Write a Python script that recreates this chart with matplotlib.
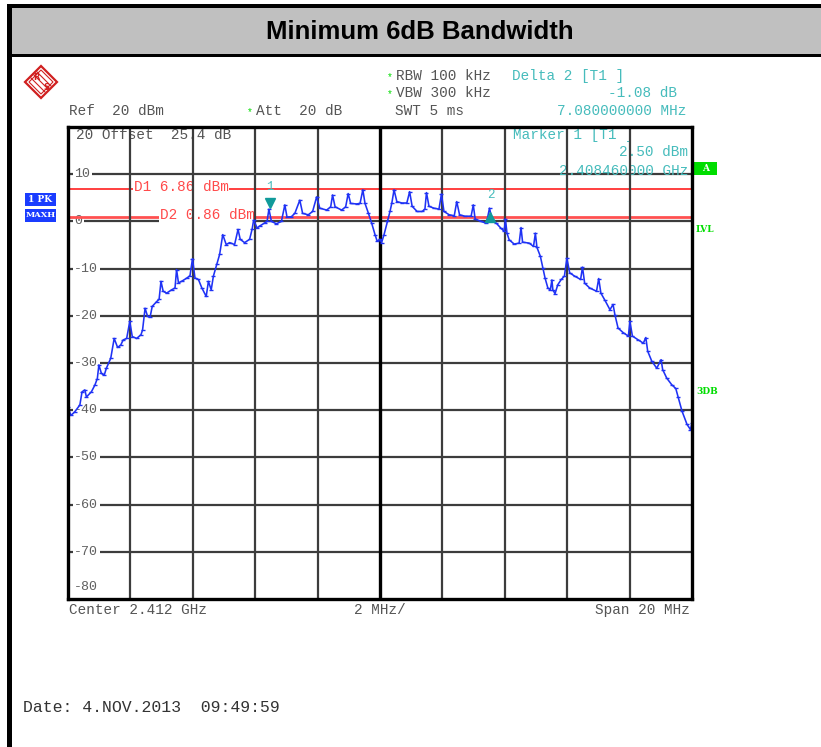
import matplotlib
matplotlib.use('Agg')
import matplotlib.pyplot as plt
from matplotlib.patches import Rectangle, Polygon
import matplotlib.transforms as mtransforms

W, H = 821, 747

# ---------------- data ----------------
freq_mhz = [-10.0, -9.91, -9.79, -9.62, -9.55, -9.46, -9.41, -9.25, -9.14, -9.06, -9.01, -8.93, -8.84,
            -8.77, -8.63, -8.52, -8.41, -8.31, -8.23, -8.12, -8.02, -7.94, -7.80, -7.66, -7.61, -7.53,
            -7.45, -7.37, -7.30, -7.16, -7.08, -7.02, -6.95, -6.84, -6.68, -6.57, -6.52, -6.46, -6.36,
            -6.19, -6.09, -6.01, -5.93, -5.82, -5.71, -5.57, -5.50, -5.41, -5.34, -5.23, -5.14, -5.04,
            -4.93, -4.82, -4.66, -4.55, -4.48, -4.34, -4.18, -4.10, -4.05, -3.94, -3.86, -3.70, -3.62,
            -3.56, -3.48, -3.32, -3.16, -3.05, -2.98, -2.84, -2.73, -2.57, -2.48, -2.30, -2.16, -2.03,
            -1.93, -1.71, -1.58, -1.52, -1.44, -1.23, -1.10, -1.02, -0.94, -0.75, -0.64, -0.55, -0.48,
            -0.37, -0.27, -0.16, -0.09, 0.0, 0.05, 0.13, 0.24, 0.32, 0.38, 0.45, 0.54, 0.70, 0.86, 0.95,
            1.03, 1.19, 1.35, 1.44, 1.49, 1.57, 1.73, 1.89, 1.97, 2.05, 2.22, 2.38, 2.46, 2.55, 2.72,
            2.92, 2.99, 3.05, 3.24, 3.41, 3.51, 3.59, 3.73, 3.87, 3.98, 4.02, 4.07, 4.14, 4.30, 4.46,
            4.52, 4.57, 4.78, 4.92, 4.98, 5.03, 5.14, 5.22, 5.29, 5.38, 5.46, 5.51, 5.54, 5.61, 5.70,
            5.81, 5.91, 5.99, 6.08, 6.24, 6.43, 6.49, 6.56, 6.72, 6.94, 7.01, 7.08, 7.20, 7.37, 7.47,
            7.53, 7.63, 7.80, 7.96, 8.01, 8.09, 8.28, 8.44, 8.52, 8.58, 8.71, 8.87, 9.01, 9.06, 9.19,
            9.35, 9.48, 9.55, 9.68, 9.84, 9.95, 10.0]
level_dbm = [-39.3, -41.1, -40.4, -38.9, -36.1, -35.7, -37.2, -36.1, -34.7, -33.3, -30.4, -32.2, -32.6,
             -31.1, -29.0, -24.8, -26.7, -26.2, -25.1, -24.8, -21.2, -24.4, -24.8, -24.0, -23.0, -18.4,
             -20.1, -20.3, -18.0, -17.0, -16.5, -12.7, -14.8, -15.2, -14.5, -14.1, -10.2, -13.0, -12.7,
             -12.0, -11.5, -7.9, -12.0, -12.3, -14.1, -15.9, -12.7, -14.5, -11.6, -9.1, -7.0, -2.8,
             -4.9, -4.5, -4.9, -1.7, -3.8, -4.5, -3.8, -1.7, 0.3, -1.4, -1.0, -0.35, 0.0,
             2.6, 0.0, -0.5, 0.0, 3.5, 0.9, 1.0, 1.7, 4.5, 1.7, 1.4, 2.1, 5.2,
             2.8, 2.4, 3.1, 5.6, 3.1, 2.4, 3.1, 5.9, 3.8, 3.7, 3.8, 6.7, 3.8,
             1.7, -0.3, -2.8, -4.2, -3.8, -4.5, -2.8, 0.0, 2.1, 3.9, 6.7, 4.2, 3.9, 3.9, 6.3,
             3.2, 2.1, 2.1, 2.6, 6.1, 3.2, 2.8, 2.6, 5.8, 2.1, 1.4, 1.2, 4.2, 1.4, 1.1,
             1.1, 3.5, 0.5, 0.0, -0.4, 2.8, 0.35, -0.4, -1.4, -2.1, 0.5, -2.5, -3.9, -4.8, -4.6,
             -1.3, -4.4, -4.6, -5.3, -2.5, -5.5, -7.4, -9.9, -12.0, -14.1, -14.5, -12.4, -14.5, -15.3, -13.4,
             -12.3, -11.6, -7.8, -10.9, -11.6, -12.3, -9.7, -13.1, -14.1, -14.8, -12.1, -15.2, -16.6, -18.7, -17.6,
             -19.8, -22.6, -23.6, -24.3, -21.2, -24.3, -25.1, -25.8, -24.6, -27.5, -29.6, -31.1, -29.3, -31.4, -33.2,
             -34.6, -35.4, -37.1, -40.2, -43.0, -44.1, -42.7]

y_grid = [10, 0, -10, -20, -30, -40, -50, -60, -70]
y_labels = ['10', '0', '-10', '-20', '-30', '-40', '-50', '-60', '-70']
x_grid = [-8, -6, -4, -2, 2, 4, 6, 8]
d1_level = 6.86
d2_level = 0.86
marker1_f, marker1_lvl = -3.54, 2.50
marker2_f, marker2_lvl = 3.54, 1.42

MONO = 'Liberation Mono'
GRAY = '#3c3c3c'
TXT = '#555555'
CYAN = '#46bcbc'
RED = '#ff3030'
GREEN = '#00dd00'
BLUE = '#1a3cff'

fig = plt.figure(figsize=(W / 100, H / 100), dpi=100)

# background canvas in pixel coordinates
bg = fig.add_axes([0, 0, 1, 1])
bg.set_xlim(0, W)
bg.set_ylim(H, 0)
bg.axis('off')

# frame & title bar
bg.add_patch(Rectangle((7, 6), W - 7, 50, facecolor='#c0c0c0', edgecolor='none'))
bg.add_patch(Rectangle((7, 4), W - 7, 3.5, facecolor='black', edgecolor='none'))
bg.add_patch(Rectangle((7, 53.5), W - 7, 3.5, facecolor='black', edgecolor='none'))
bg.add_patch(Rectangle((7, 4), 4.5, H, facecolor='black', edgecolor='none'))
bg.text(420, 32, 'Minimum 6dB Bandwidth', fontsize=18.5, fontweight='bold',
        family='Liberation Sans', ha='center', va='center', color='black')

# R&S logo
cx, cy, r = 41, 82, 16
bg.add_patch(Polygon([(cx, cy - r), (cx + r, cy), (cx, cy + r), (cx - r, cy)], closed=True,
                     facecolor='white', edgecolor='#d02020', lw=1.6))
bg.add_patch(Polygon([(cx, cy - r + 4), (cx + r - 4, cy), (cx, cy + r - 4), (cx - r + 4, cy)], closed=True,
                     facecolor='none', edgecolor='#d02020', lw=0.8))
for d in (-3, 0, 3):
    bg.plot([cx - 7 + d, cx + 7 + d], [cy - 7 - d, cy + 7 - d], color='#d02020', lw=0.8)
bg.text(cx - 5, cy - 5, 'R', fontsize=6, color='#d02020', ha='center', va='center', fontweight='bold')
bg.text(cx + 5, cy + 5, 'S', fontsize=6, color='#d02020', ha='center', va='center', fontweight='bold')

# header text
FS = 10.4
def mono(x, y, s, color=TXT, ha='left', size=FS):
    bg.text(x, y, s, family=MONO, fontsize=size, color=color, ha=ha, va='center')

def star(x, y):
    bg.text(x, y + 1, '*', family=MONO, fontsize=7, color=GREEN, ha='center', va='center')

star(390, 76); mono(396, 76, 'RBW 100 kHz')
star(390, 93); mono(396, 93, 'VBW 300 kHz')
mono(512, 76, 'Delta 2 [T1 ]', color=CYAN)
mono(686, 93, '-1.08 dB ', color=CYAN, ha='right')
mono(69, 111, 'Ref  20 dBm')
star(250, 111); mono(256, 111, 'Att  20 dB')
mono(395, 111, 'SWT 5 ms')
mono(686, 111, '7.080000000 MHz', color=CYAN, ha='right')

# side labels
bg.add_patch(Rectangle((694, 162), 23, 13, facecolor=GREEN, edgecolor='none'))
bg.text(705.5, 168.5, 'A', fontsize=6.5, color='white', fontweight='bold', ha='center', va='center',
        family='DejaVu Serif')
bg.text(696, 229, 'LVL', fontsize=6.5, color=GREEN, fontweight='bold', ha='left', va='center',
        family='DejaVu Serif')
bg.text(696, 392, '3DB', fontsize=6.5, color=GREEN, fontweight='bold', ha='left', va='center',
        family='DejaVu Serif')
bg.add_patch(Rectangle((25, 193), 31, 13, facecolor=BLUE, edgecolor='none'))
bg.text(40.5, 199.5, '1 PK', fontsize=6.5, color='white', fontweight='bold', ha='center', va='center',
        family='DejaVu Serif')
bg.add_patch(Rectangle((25, 208.5), 31, 13, facecolor=BLUE, edgecolor='none'))
bg.text(40.5, 215, 'MAXH', fontsize=6, color='white', fontweight='bold', ha='center', va='center',
        family='DejaVu Serif')

# bottom text
mono(69, 610, 'Center 2.412 GHz')
mono(380, 610, '2 MHz/', ha='center')
mono(690, 610, 'Span 20 MHz', ha='right')
mono(23, 707, 'Date: 4.NOV.2013  09:49:59', color='#333333', size=11.9)

# ---------------- main plot ----------------
ax = fig.add_axes([68 / W, 1 - 599 / H, 624 / W, 472 / H])
ax.set_xlim(-10, 10)
ax.set_ylim(-80, 20)
ax.set_xticks([])
ax.set_yticks([])
ax.set_facecolor('white')
for s in ax.spines.values():
    s.set_linewidth(2.4)
    s.set_color('black')
    s.set_zorder(10)

for yv in y_grid:
    ax.axhline(yv, color=GRAY, lw=1.6, zorder=1)
for xv in x_grid:
    ax.axvline(xv, color=GRAY, lw=1.6, zorder=3)
ax.axvline(0, color='black', lw=2.4, zorder=3)

tk = dict(family=MONO, fontsize=9.6, color='#606060', ha='left', va='center', zorder=2,
          bbox=dict(facecolor='white', edgecolor='none', pad=1.0))
for yv, lab in zip(y_grid, y_labels):
    ax.text(-9.8, yv, lab, **tk)
ax.text(-9.8, -77.5, '-80', family=MONO, fontsize=9.6, color='#606060', ha='left', va='center')

ax.text(-9.75, 18.2, '20 Offset  25.4 dB', family=MONO, fontsize=FS, color=TXT, ha='left', va='center', zorder=2)
ax.text(4.26, 18.2, 'Marker 1 [T1 ]', family=MONO, fontsize=FS, color=CYAN, ha='left', va='center', zorder=2)
ax.text(9.87, 14.6, '2.50 dBm', family=MONO, fontsize=FS, color=CYAN, ha='right', va='center', zorder=2)
ax.text(9.87, 10.6, '2.408460000 GHz', family=MONO, fontsize=FS, color=CYAN, ha='right', va='center', zorder=2)

# display lines
ax.axhline(d1_level, color=RED, lw=1.3, zorder=2)
ax.axhline(d2_level, color='#ff5050', lw=2.0, zorder=2)
dl = dict(family=MONO, fontsize=FS, color='#ff4a4a', ha='left', va='center', zorder=2.5,
          bbox=dict(facecolor='white', edgecolor='none', pad=0.5))
ax.text(-7.9, d1_level + 0.4, 'D1 6.86 dBm', **dl)
ax.text(-7.05, d2_level + 0.4, 'D2 0.86 dBm', **dl)

# trace
ax.plot(freq_mhz, level_dbm, color='#1f32f5', lw=1.15, zorder=5,
        marker='_', ms=3, mew=1.0)

# markers
up = mtransforms.offset_copy(ax.transData, fig=fig, y=4.5, units='points')
dn = mtransforms.offset_copy(ax.transData, fig=fig, y=-1.5, units='points')
ax.plot([marker1_f], [marker1_lvl], marker='v', ms=7.5, color='#109a9a', transform=up, zorder=6, clip_on=False)
ax.plot([marker2_f], [marker2_lvl], marker='^', ms=6.5, color='#109a9a', transform=dn, zorder=6, clip_on=False)
ax.annotate('1', (marker1_f, marker1_lvl), xytext=(0, 16), textcoords='offset points',
            family=MONO, fontsize=9, color=CYAN, ha='center', va='center', zorder=6)
ax.annotate('2', (marker2_f, marker2_lvl), xytext=(0, 14), textcoords='offset points',
            family=MONO, fontsize=9, color=CYAN, ha='center', va='center', zorder=6)

fig.savefig('out.png', dpi=100)
